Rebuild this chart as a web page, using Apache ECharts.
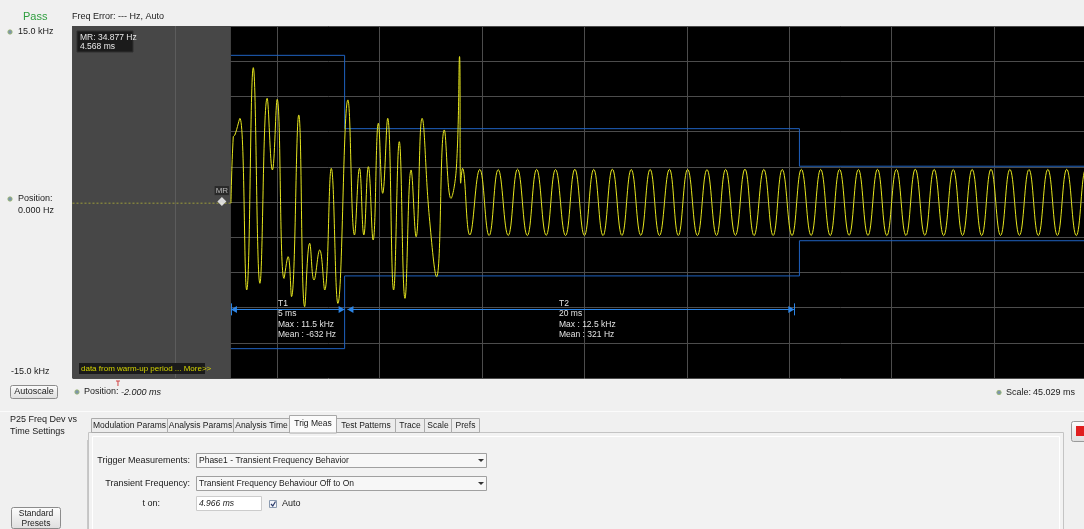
<!DOCTYPE html>
<html><head><meta charset="utf-8">
<script src="https://cdn.jsdelivr.net/npm/echarts@6/dist/echarts.min.js"></script>
<style>html,body{margin:0;padding:0;background:#f0f0f0;overflow:hidden}#c{width:1100px;height:529px}</style>
</head><body><div id="c"></div>
<script>
// ---- data (ms, kHz) ----
const POSITION_MS = -2.0;
const SCALE_MS = 45.029;
const Y_MIN = -15, Y_MAX = 15, Y_STEP = 3;
const Y_LABELS = ['15.0 kHz', '-15.0 kHz'];
const T_ON_MS = 4.966;
const MR_POINT = [4.568, 0.034877];
const WARMUP = [[-2.0, -0.1], [4.96, -0.1]];
const TRANSIENT = [[4.968,-0.1],[5.07,5.57],[5.14,5.71],[5.36,7.13],[5.66,-7.50],[5.95,11.45],[6.24,-6.93],[6.56,8.84],[6.79,2.73],[7.00,8.75],[7.30,-6.51],[7.48,-4.66],[7.63,-8.07],[7.95,7.42],[8.21,-8.92],[8.43,-3.52],[8.62,-6.65],[8.87,-4.09],[9.09,-7.50],[9.38,2.87],[9.67,-8.64],[10.11,8.70],[10.40,-2.81],[10.62,2.87],[10.81,-2.81],[11.01,3.01],[11.22,-3.24],[11.45,6.71],[11.64,0.74],[11.86,7.13],[12.12,-7.50],[12.37,5.14],[12.62,-8.21],[12.89,2.73],[13.11,-2.96],[13.37,7.13],[13.69,-1.25],[14.01,-6.37],[14.35,6.14],[14.64,0.31],[14.88,2.9],[15.02,12.4],[15.07,1.6],[15.15,2.87]];
const PEAK_T = [15.91,16.72,17.57,18.41,19.24,20.09,20.92,21.74,22.57,23.40,24.25,25.05,25.90,26.72,27.57,28.40,29.21,30.05,30.90,31.73,32.56,33.40,34.23,35.06,35.89,36.73,37.56,38.39,39.22,40.06,40.89,41.72,42.55,43.39];
const PEAK_V = [2.78,2.76,2.80,2.78,2.77,2.79,2.78,2.80,2.77,2.78,2.79,2.78,2.76,2.78,2.80,2.78,2.77,2.79,2.78,2.78,2.77,2.79,2.78,2.80,2.78,2.77,2.78,2.79,2.78,2.77,2.78,2.79,2.78,2.78];
const TROUGH_T = [15.47,16.32,17.16,18.00,18.83,19.68,20.51,21.33,22.16,22.99,23.81,24.64,25.48,26.32,27.15,27.97,28.81,29.64,30.48,31.32,32.15,32.98,33.81,34.65,35.48,36.31,37.14,37.98,38.81,39.64,40.47,41.31,42.14,42.97];
const TROUGH_V = [-2.81,-2.86,-2.85,-2.86,-2.84,-2.86,-2.85,-2.86,-2.85,-2.84,-2.86,-2.85,-2.86,-2.85,-2.84,-2.86,-2.85,-2.86,-2.85,-2.86,-2.84,-2.85,-2.86,-2.85,-2.84,-2.86,-2.85,-2.86,-2.85,-2.84,-2.86,-2.85,-2.86,-2.85];
const MASK_UPPER = [[4.966,12.5],[9.966,12.5],[9.966,6.25],[29.966,6.25],[29.966,3.05],[43.029,3.05]];
const MASK_LOWER = [[4.966,-12.5],[9.966,-12.5],[9.966,-6.3],[29.966,-6.3],[29.966,-3.3],[43.029,-3.3]];
const INTERVALS = [
  {name:'T1', start:4.966, end:9.966, dur:'5 ms', max:'11.5 kHz', mean:'-632 Hz'},
  {name:'T2', start:10.09, end:29.74, dur:'20 ms', max:'12.5 kHz', mean:'321 Hz'}
];
const ANNOT_LEVEL = -9.15;

const rel = t => t - POSITION_MS;
const steady = [];
PEAK_T.forEach((t,i)=>steady.push([t,PEAK_V[i]]));
TROUGH_T.forEach((t,i)=>steady.push([t,TROUGH_V[i]]));
steady.sort((a,b)=>a[0]-b[0]);
const trace = TRANSIENT.concat(steady).map(p=>[rel(p[0]),p[1]]);

const F = '"Liberation Sans", Arial, sans-serif';
const G = [];
function T(x,y,text,o={}){G.push({type:'text',x,y,z:100,silent:true,style:{text,font:(o.italic?'italic ':'')+(o.size||9)+'px '+F,fill:o.fill||'#1a1a1a',align:o.align||'left',verticalAlign:'middle'}});}
function R(x,y,w,h,fill,stroke,r,z){G.push({type:'rect',z:z||90,silent:true,shape:{x,y,width:w,height:h,r:r||0},style:{fill:fill||'none',stroke:stroke||null,lineWidth:1}});}
function L(x1,y1,x2,y2,stroke,w){G.push({type:'line',z:95,silent:true,shape:{x1,y1,x2,y2},style:{stroke,lineWidth:w||1}});}
function ICON(x,y){G.push({type:'circle',z:95,silent:true,shape:{cx:x,cy:y,r:2.2},style:{fill:'#7c95ac',stroke:'#9cb868',lineWidth:0.8}});}
const BTN = {type:'linear',x:0,y:0,x2:0,y2:1,colorStops:[{offset:0,color:'#fdfdfd'},{offset:1,color:'#dedede'}]};

// header
T(23,17,'Pass',{size:11,fill:'#2e9e3e'});
T(72,17,'Freq Error: --- Hz, Auto');
// left axis labels
ICON(10,32); T(18,32,Y_LABELS[0]);
ICON(10,199); T(18,199,'Position:'); T(18,211,'0.000 Hz');
T(11,372,Y_LABELS[1]);
// MR box
R(77,31,56,21,'#1b1b1b','#303030',0,96);
T(80,37.5,'MR: 34.877 Hz',{size:8.5,fill:'#e8e8e8'});
T(80,46.5,'4.568 ms',{size:8.5,fill:'#e8e8e8'});
// warm-up note
R(79,363,126,11,'#1a1a1a',null,0,96);
T(81,368.5,'data from warm-up period ... More>>',{size:8,fill:'#d4d400'});
// interval annotations
[[278,INTERVALS[0]],[559,INTERVALS[1]]].forEach(([x,iv])=>{
  T(x,303.5,iv.name,{size:8.5,fill:'#e2e2e2'});
  T(x,314,iv.dur,{size:8.5,fill:'#e2e2e2'});
  T(x,324.5,'Max : '+iv.max,{size:8.5,fill:'#e2e2e2'});
  T(x,335,'Mean : '+iv.mean,{size:8.5,fill:'#e2e2e2'});
});
// controls row
R(10.5,385.5,47,13,BTN,'#8c8c8c',2);
T(34,392,'Autoscale',{align:'center'});
ICON(77,392); T(84,392,'Position:'); T(121,392,'-2.000 ms',{italic:true});
ICON(999,392.5); T(1006,392.5,'Scale:'); T(1033,392.5,'45.029 ms');
L(0,411.5,1100,411.5,'#fbfbfb');
// settings
T(10,420,'P25 Freq Dev vs'); T(10,432,'Time Settings');
R(88.5,432.5,975,110,'#f2f2f2','#c4c4c4',0,80);
R(92.5,436.5,967,110,'#f2f2f2','#ffffff',0,81);
const TAB_LABELS = ['Modulation Params','Analysis Params','Analysis Time','Trig Meas','Test Patterns','Trace','Scale','Prefs'];
const TAB_EDGES = [91,167,233,289,336,395,424,451,479];
TAB_LABELS.forEach((lab,i)=>{
  const x0=TAB_EDGES[i], x1=TAB_EDGES[i+1], act = lab==='Trig Meas';
  if(act){R(x0+0.5,415.5,x1-x0,17.5,'#fbfbfb','#a8a8a8',0,92);}
  else {R(x0+0.5,418.5,x1-x0,14,'#ececec','#ababab',0,85);}
  T((x0+x1)/2+0.5,act?424:425.5,lab,{align:'center',size:8.5});
});
T(190,461,'Trigger Measurements:',{align:'right'});
R(196.5,453.5,290,14,'#f7f7f7','#a0a0a0',0,92);
T(199,460.5,'Phase1 - Transient Frequency Behavior',{size:8.5});
G.push({type:'polygon',z:96,silent:true,shape:{points:[[478,459],[484,459],[481,462]]},style:{fill:'#333'}});
T(190,484,'Transient Frequency:',{align:'right'});
R(196.5,476.5,290,14,'#f7f7f7','#a0a0a0',0,92);
T(199,483.5,'Transient Frequency Behaviour Off to On',{size:8.5});
G.push({type:'polygon',z:96,silent:true,shape:{points:[[478,482],[484,482],[481,485]]},style:{fill:'#333'}});
T(160,504,'t on:',{align:'right'});
R(196.5,496.5,65,14,'#ffffff','#cccccc',0,92);
T(199,503.5,'4.966 ms',{italic:true,size:8.5});
R(269.5,500.5,7,7,'#f4f6fb','#8a9ab0',0,92);
G.push({type:'polyline',z:96,silent:true,shape:{points:[[271,504],[272.8,506],[275.5,501.5]]},style:{stroke:'#2a3a6a',lineWidth:1.2,fill:null}});
T(282,504,'Auto');
R(11.5,507.5,49,21,BTN,'#8c8c8c',2);
T(36,514,'Standard',{align:'center',size:8.5}); T(36,523.5,'Presets',{align:'center',size:8.5});
L(87.5,440,87.5,529,'#c8c8c8');
R(1071.5,421.5,16,20,BTN,'#9a9a9a',2);
R(1076,426,10,10,'#e01e1e',null,0,96);
L(1077.5,427.5,1084.5,434.5,'#fff',1.5); L(1084.5,427.5,1077.5,434.5,'#fff',1.5);

const chart = echarts.init(document.getElementById('c'));
const grid = {left:72.5, top:26, width:1024, height:352};
const axisCommon = {axisLine:{show:false},axisTick:{show:false},axisLabel:{show:false},splitLine:{show:true,lineStyle:{color:'#4c4c4c',width:1}}};
const maskLine = (m)=>({type:'line',data:m.map(p=>[rel(p[0]),p[1]]),z:3,symbol:'none',silent:true,lineStyle:{color:'#1f62c0',width:1}});
chart.setOption({
  animation:false,
  backgroundColor:'#f0f0f0',
  grid:Object.assign({show:true,backgroundColor:'#000',borderWidth:0},grid),
  xAxis:Object.assign({type:'value',min:0,max:SCALE_MS,interval:SCALE_MS/10},axisCommon),
  yAxis:Object.assign({type:'value',min:Y_MIN,max:Y_MAX,interval:Y_STEP},axisCommon),
  graphic:G,
  series:[
    {type:'custom',z:1,silent:true,data:[[0,rel(T_ON_MS),SCALE_MS/10]],renderItem:(params,api)=>{
      const a=api.coord([api.value(0),Y_MAX]), b=api.coord([api.value(1),Y_MIN]), g=api.coord([api.value(2),Y_MIN]);
      return {type:'group',children:[
        {type:'rect',shape:{x:a[0],y:a[1],width:b[0]-a[0],height:b[1]-a[1]},style:{fill:'#474747',stroke:null}},
        {type:'line',shape:{x1:Math.round(g[0])+0.5,y1:a[1],x2:Math.round(g[0])+0.5,y2:b[1]},style:{stroke:'#5c5c5c',lineWidth:1}}
      ]};
    }},
    maskLine(MASK_UPPER),
    maskLine(MASK_LOWER),
    {type:'line',data:WARMUP.map(p=>[rel(p[0]),p[1]]),z:4,symbol:'none',silent:true,lineStyle:{color:'#9c9c3a',width:1,type:[2,2]}},
    {type:'line',data:trace,z:5,symbol:'none',smooth:0.45,silent:true,lineStyle:{color:'#e6e61e',width:1}},
    {type:'scatter',data:[[rel(MR_POINT[0]),MR_POINT[1]]],z:7,silent:true,symbol:'diamond',symbolSize:[9,9],itemStyle:{color:'#ffffff'},
     label:{show:true,position:'top',distance:2,formatter:'MR',color:'#d8d8d8',fontSize:8,fontFamily:'Liberation Sans',backgroundColor:'#222',padding:[1,1,0,1]}}
  ]
});
// interval arrows, ticks and trigger marker placed through the axis scales
const px = (t,v)=>chart.convertToPixel({gridIndex:0},[rel(t),v]);
const extra = [];
const AC = '#2c85e6';
INTERVALS.forEach(iv=>{
  const a = px(iv.start,ANNOT_LEVEL), b = px(iv.end,ANNOT_LEVEL), y = Math.round(a[1])+0.5;
  extra.push({type:'line',z:98,silent:true,shape:{x1:a[0],y1:y,x2:b[0],y2:y},style:{stroke:AC,lineWidth:1}});
  extra.push({type:'polygon',z:98,silent:true,shape:{points:[[a[0],y],[a[0]+6,y-3.5],[a[0]+6,y+3.5]]},style:{fill:AC}});
  extra.push({type:'polygon',z:98,silent:true,shape:{points:[[b[0],y],[b[0]-6,y-3.5],[b[0]-6,y+3.5]]},style:{fill:AC}});
});
[INTERVALS[0].start, INTERVALS[1].end].forEach(t=>{
  const p = px(t,ANNOT_LEVEL), x = Math.round(p[0])+0.5;
  extra.push({type:'line',z:98,silent:true,shape:{x1:x,y1:p[1]-6,x2:x,y2:p[1]+6},style:{stroke:AC,lineWidth:1}});
});
const trig = px(0,Y_MIN);
extra.push({type:'line',z:99,silent:true,shape:{x1:trig[0],y1:381,x2:trig[0],y2:386},style:{stroke:'#d04040',lineWidth:1}});
extra.push({type:'line',z:99,silent:true,shape:{x1:trig[0]-2,y1:381,x2:trig[0]+2,y2:381},style:{stroke:'#d04040',lineWidth:1}});
chart.setOption({graphic:G.concat(extra)});
</script></body></html>
